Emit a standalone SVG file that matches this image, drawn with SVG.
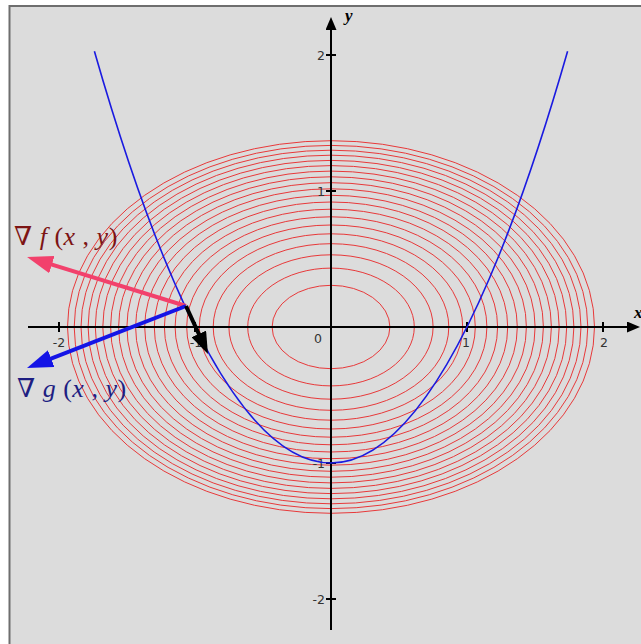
<svg xmlns="http://www.w3.org/2000/svg" width="641" height="644" viewBox="0 0 641 644">
<style>
.lvl{fill:none;stroke:#e8393a;stroke-width:1}
.axis{stroke:#000;stroke-width:2;fill:none}
.tick{stroke:#000;stroke-width:2}
.tl{font-family:"DejaVu Sans","Liberation Sans",sans-serif;font-size:12.5px;fill:#333}
.ax{font-family:"Liberation Serif","DejaVu Serif",serif;font-style:italic;font-weight:bold;font-size:17px;fill:#000}
.m{font-family:"Liberation Serif","DejaVu Serif",serif;font-size:26px;letter-spacing:0.5px}
.it{font-style:italic}
</style>
<defs>
<marker id="hp" markerUnits="userSpaceOnUse" markerWidth="26" markerHeight="18" refX="16" refY="9" orient="auto"><path d="M0,0 L26,9 L0,18 z" fill="#f2416c"/></marker>
<marker id="hb" markerUnits="userSpaceOnUse" markerWidth="26" markerHeight="18" refX="16" refY="9" orient="auto"><path d="M0,0 L26,9 L0,18 z" fill="#1414e6"/></marker>
<marker id="hk" markerUnits="userSpaceOnUse" markerWidth="22" markerHeight="16" refX="12" refY="8" orient="auto"><path d="M0,0 L22,8 L0,16 z" fill="#000"/></marker>
<marker id="ha" markerUnits="userSpaceOnUse" markerWidth="13" markerHeight="11" refX="2" refY="5.5" orient="auto"><path d="M0,0 L13,5.5 L0,11 z" fill="#000"/></marker>
</defs>
<g id="background">
<rect x="9" y="5" width="632" height="639" fill="#dcdcdc"/>
<path d="M9.5,644 L9.5,6 L641,6" fill="none" stroke="#6e6e6e" stroke-width="2"/>
</g>
<g id="contours">
<ellipse class="lvl" cx="331" cy="327" rx="58.9" ry="41.7"/>
<ellipse class="lvl" cx="331" cy="327" rx="83.3" ry="58.9"/>
<ellipse class="lvl" cx="331" cy="327" rx="102.1" ry="72.2"/>
<ellipse class="lvl" cx="331" cy="327" rx="117.8" ry="83.3"/>
<ellipse class="lvl" cx="331" cy="327" rx="131.7" ry="93.2"/>
<ellipse class="lvl" cx="331" cy="327" rx="144.3" ry="102.0"/>
<ellipse class="lvl" cx="331" cy="327" rx="155.9" ry="110.2"/>
<ellipse class="lvl" cx="331" cy="327" rx="166.6" ry="117.8"/>
<ellipse class="lvl" cx="331" cy="327" rx="176.7" ry="125.0"/>
<ellipse class="lvl" cx="331" cy="327" rx="186.3" ry="131.7"/>
<ellipse class="lvl" cx="331" cy="327" rx="195.4" ry="138.2"/>
<ellipse class="lvl" cx="331" cy="327" rx="204.1" ry="144.3"/>
<ellipse class="lvl" cx="331" cy="327" rx="212.4" ry="150.2"/>
<ellipse class="lvl" cx="331" cy="327" rx="220.4" ry="155.9"/>
<ellipse class="lvl" cx="331" cy="327" rx="228.2" ry="161.4"/>
<ellipse class="lvl" cx="331" cy="327" rx="235.7" ry="166.6"/>
<ellipse class="lvl" cx="331" cy="327" rx="242.9" ry="171.8"/>
<ellipse class="lvl" cx="331" cy="327" rx="250.0" ry="176.8"/>
<ellipse class="lvl" cx="331" cy="327" rx="256.8" ry="181.6"/>
<ellipse class="lvl" cx="331" cy="327" rx="263.5" ry="186.3"/>
</g>
<g id="axes">
<line class="axis" x1="28" y1="327" x2="629" y2="327" marker-end="url(#ha)"/>
<line class="axis" x1="331" y1="630" x2="331" y2="28" marker-end="url(#ha)"/>
<line class="tick" x1="59" y1="322" x2="59" y2="332"/>
<line class="tick" x1="195" y1="322" x2="195" y2="332"/>
<line class="tick" x1="467" y1="322" x2="467" y2="332"/>
<line class="tick" x1="603" y1="322" x2="603" y2="332"/>
<line class="tick" x1="326" y1="55" x2="336" y2="55"/>
<line class="tick" x1="326" y1="191" x2="336" y2="191"/>
<line class="tick" x1="326" y1="463" x2="336" y2="463"/>
<line class="tick" x1="326" y1="599" x2="336" y2="599"/>
<text class="tl" x="59" y="347" text-anchor="middle">-2</text>
<text class="tl" x="196" y="347" text-anchor="middle">-1</text>
<text class="tl" x="318" y="343" text-anchor="middle">0</text>
<text class="tl" x="466" y="347" text-anchor="middle">1</text>
<text class="tl" x="604" y="347" text-anchor="middle">2</text>
<text class="tl" x="325" y="60" text-anchor="end">2</text>
<text class="tl" x="325" y="196" text-anchor="end">1</text>
<text class="tl" x="325" y="468" text-anchor="end">-1</text>
<text class="tl" x="325" y="604" text-anchor="end">-2</text>
<text class="ax" x="345" y="21">y</text>
<text class="ax" x="634" y="318">x</text>
</g>
<g id="constraint">
<path d="M94.4,51.2 Q331,874.8 567.6,51.2" fill="none" stroke="#1a1ae0" stroke-width="1.6"/>
</g>
<g id="connectors">
<line x1="186" y1="306" x2="36.6" y2="259.9" stroke="#f2416c" stroke-width="4" marker-end="url(#hp)"/>
<line x1="186" y1="306" x2="36.3" y2="364.4" stroke="#1414e6" stroke-width="4" marker-end="url(#hb)"/>
<line x1="186" y1="306" x2="203.8" y2="344.9" stroke="#000" stroke-width="4" marker-end="url(#hk)"/>
</g>
<g id="label-grad-f">
<text class="m" x="14" y="245" fill="#7d1414">∇ <tspan class="it">f</tspan> (<tspan class="it">x</tspan> , <tspan class="it">y</tspan>)</text>
</g>
<g id="label-grad-g">
<text class="m" x="17" y="397" fill="#1e1e82">∇ <tspan class="it">g</tspan> (<tspan class="it">x</tspan> , <tspan class="it">y</tspan>)</text>
</g>
</svg>
